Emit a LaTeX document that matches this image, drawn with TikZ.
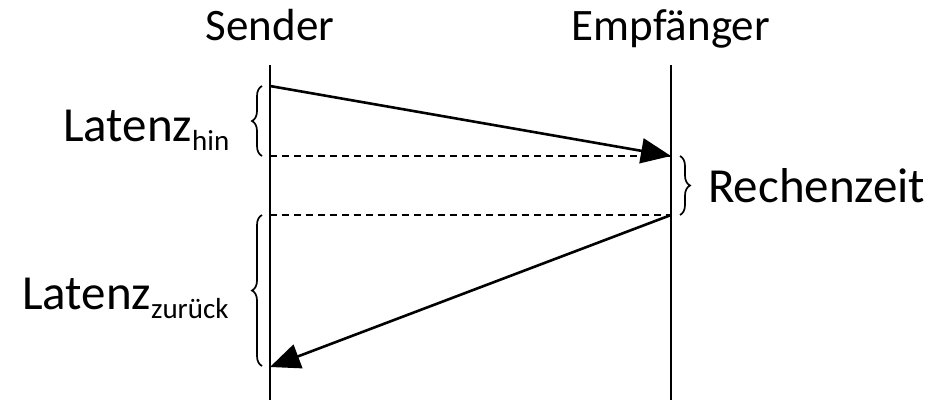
\documentclass[tikz,border=0pt]{standalone}
\usepackage{fontspec}
\setmainfont{Carlito}
\usetikzlibrary{arrows.meta,decorations.pathreplacing}
\begin{document}
\begin{tikzpicture}[x=1pt,y=-1pt,
  lifeline/.style={line width=2pt},
  msg/.style={line width=2.6pt,-{Triangle[length=30pt,width=25pt]}},
  guide/.style={line width=1.7pt,dash pattern=on 7pt off 5pt},
  bracel/.style={line width=1.7pt,decorate,decoration={brace,amplitude=10pt}},
  head/.style={font=\fontsize{45}{54}\selectfont,inner sep=0pt,anchor=base},
  lab/.style={font=\fontsize{49}{58}\selectfont,inner sep=0pt,anchor=base west}]
\useasboundingbox (0,0) rectangle (946,402);
\node[head] (snd) at (270,40) {Sender};
\node[head] (emp) at (671,40) {Empfänger};
\coordinate (s0) at (270,65);
\coordinate (s1) at (270,400);
\coordinate (e0) at (671,65);
\coordinate (e1) at (671,400);
\coordinate (a1) at (270,86);
\coordinate (b1) at (671,156);
\coordinate (a2) at (270,156);
\coordinate (b2) at (671,215);
\coordinate (a3) at (270,215);
\coordinate (b3) at (270,367);
\draw[lifeline] (s0) -- (s1);
\draw[lifeline] (e0) -- (e1);
\draw[msg] (a1) -- (b1);
\draw[guide] (a2) -- (b1);
\draw[guide] (a3) -- (b2);
\draw[msg] (b2) -- (b3);
\coordinate (bh0) at (262,156);
\coordinate (bh1) at (262,86);
\coordinate (bz0) at (262,366);
\coordinate (bz1) at (262,215);
\coordinate (br0) at (680,156);
\coordinate (br1) at (680,215);
\draw[bracel] (bh0) -- (bh1);
\draw[bracel] (bz0) -- (bz1);
\draw[bracel] (br0) -- (br1);
\node[lab] (lh) at (63,141) {Latenz\raisebox{-9pt}{\fontsize{29}{34}\selectfont hin}};
\node[lab] (lz) at (22,309) {Latenz\raisebox{-9pt}{\fontsize{29}{34}\selectfont zurück}};
\node[lab] (rz) at (708,202) {Rechenzeit};
\end{tikzpicture}
\end{document}
